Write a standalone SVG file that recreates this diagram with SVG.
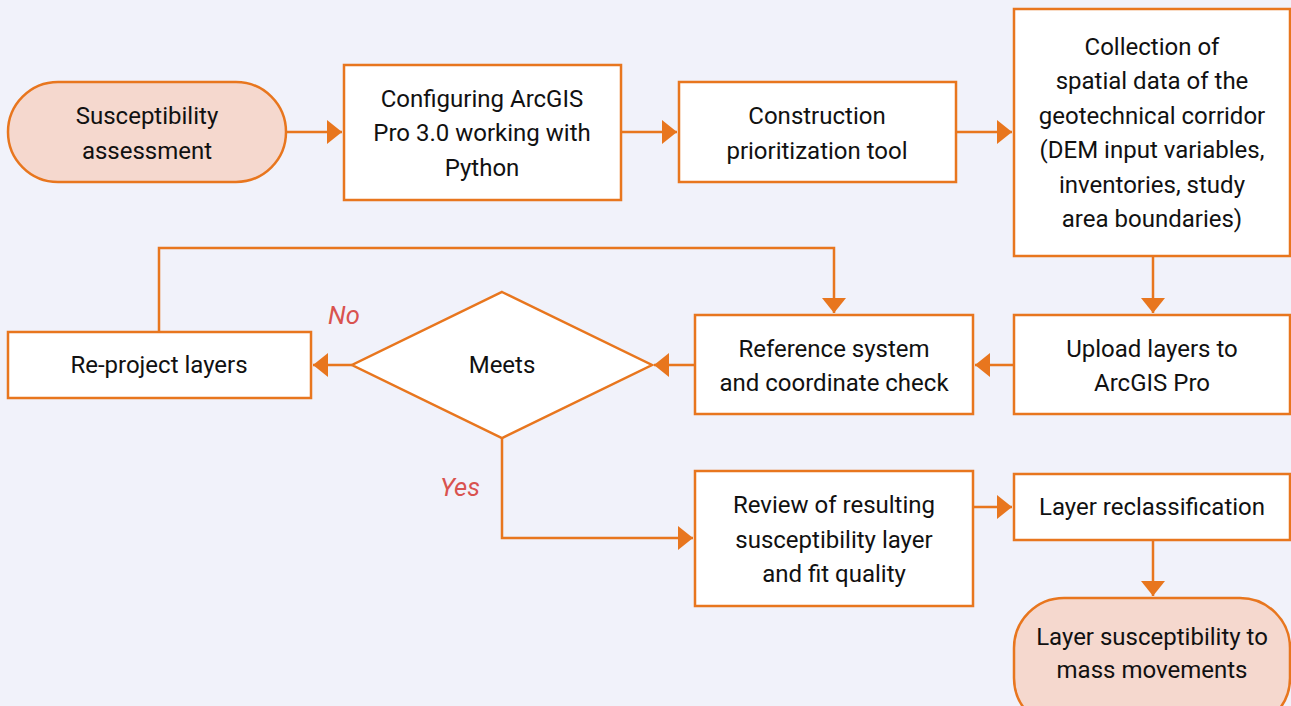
<svg xmlns="http://www.w3.org/2000/svg" width="1291" height="706" viewBox="0 0 1291 706">
<style>
.box{fill:#ffffff;stroke:#e8761e;stroke-width:2.5}
.term{fill:#f5d8ce;stroke:#e8761e;stroke-width:2.5}
.t{font-family:Roboto,"Liberation Sans",sans-serif;font-size:24px;fill:#111;text-anchor:middle;dominant-baseline:central}
.lbl{font-family:Roboto,"Liberation Sans",sans-serif;font-size:25.5px;font-style:italic;fill:#d9534f;text-anchor:middle;dominant-baseline:central}
.c{fill:none;stroke:#e8761e;stroke-width:2.5}
</style>
<defs>
<marker id="ah" viewBox="0 0 15 24" refX="15" refY="12" markerWidth="15" markerHeight="24" markerUnits="userSpaceOnUse" orient="auto">
<path d="M0,0 L15,12 L0,24 Z" fill="#e8761e"/>
</marker>
</defs>
<rect width="1291" height="706" fill="#f1f2fa"/>
<g id="connectors">
<path class="c" d="M286,132 H342" marker-end="url(#ah)"/>
<path class="c" d="M621,132 H677" marker-end="url(#ah)"/>
<path class="c" d="M956,132 H1012" marker-end="url(#ah)"/>
<path class="c" d="M1153,256 V313" marker-end="url(#ah)"/>
<path class="c" d="M1014,365 H975" marker-end="url(#ah)"/>
<path class="c" d="M695,365 H654" marker-end="url(#ah)"/>
<path class="c" d="M352,365 H313" marker-end="url(#ah)"/>
<path class="c" d="M159,332 V248 H834 V313" marker-end="url(#ah)"/>
<path class="c" d="M502,438 V538 H693" marker-end="url(#ah)"/>
<path class="c" d="M973,507 H1012" marker-end="url(#ah)"/>
<path class="c" d="M1153,540 V596" marker-end="url(#ah)"/>
<text class="lbl" x="344" y="315">No</text>
<text class="lbl" x="460" y="487">Yes</text>
</g>
<g id="start">
<rect class="term" x="8" y="82" width="278" height="100" rx="50"/>
<text class="t" x="147" y="116">Susceptibility</text>
<text class="t" x="147" y="151">assessment</text>
</g>
<g id="configure">
<rect class="box" x="344" y="65" width="277" height="135"/>
<text class="t" x="482" y="99">Configuring ArcGIS</text>
<text class="t" x="482" y="133">Pro 3.0 working with</text>
<text class="t" x="482" y="168">Python</text>
</g>
<g id="construction">
<rect class="box" x="679" y="82" width="277" height="100"/>
<text class="t" x="817" y="116">Construction</text>
<text class="t" x="817" y="151">prioritization tool</text>
</g>
<g id="collection">
<rect class="box" x="1014" y="9" width="276" height="247"/>
<text class="t" x="1152" y="47">Collection of</text>
<text class="t" x="1152" y="81">spatial data of the</text>
<text class="t" x="1152" y="116">geotechnical corridor</text>
<text class="t" x="1152" y="150">(DEM input variables,</text>
<text class="t" x="1152" y="185">inventories, study</text>
<text class="t" x="1152" y="219">area boundaries)</text>
</g>
<g id="upload">
<rect class="box" x="1014" y="315" width="276" height="99"/>
<text class="t" x="1152" y="349">Upload layers to</text>
<text class="t" x="1152" y="383">ArcGIS Pro</text>
</g>
<g id="reference">
<rect class="box" x="695" y="315" width="278" height="99"/>
<text class="t" x="834" y="349">Reference system</text>
<text class="t" x="834" y="383">and coordinate check</text>
</g>
<g id="meets">
<path class="box" d="M502,292 L652,365 L502,438 L352,365 Z"/>
<text class="t" x="502" y="365">Meets</text>
</g>
<g id="reproject">
<rect class="box" x="8" y="332" width="303" height="66"/>
<text class="t" x="159" y="365">Re-project layers</text>
</g>
<g id="review">
<rect class="box" x="695" y="471" width="278" height="135"/>
<text class="t" x="834" y="505">Review of resulting</text>
<text class="t" x="834" y="540">susceptibility layer</text>
<text class="t" x="834" y="574">and fit quality</text>
</g>
<g id="reclass">
<rect class="box" x="1014" y="474" width="276" height="66"/>
<text class="t" x="1152" y="507">Layer reclassification</text>
</g>
<g id="end">
<rect class="term" x="1014" y="598" width="276" height="130" rx="50"/>
<text class="t" x="1152" y="637">Layer susceptibility to</text>
<text class="t" x="1152" y="670">mass movements</text>
</g>
</svg>
